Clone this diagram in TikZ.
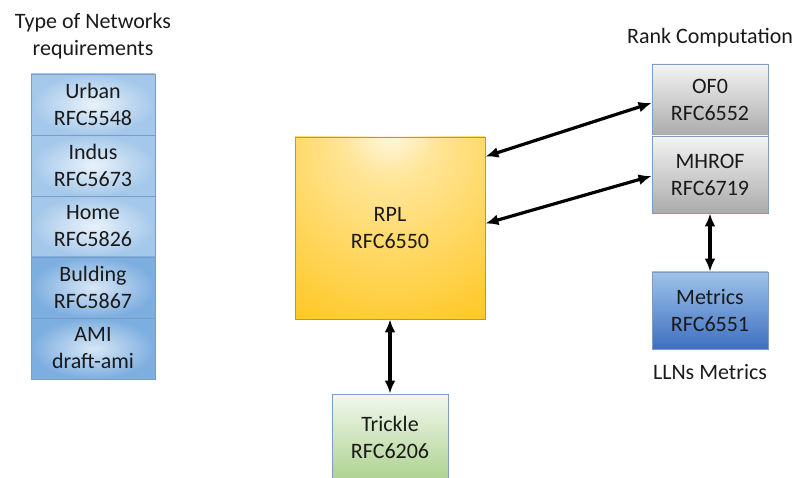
\documentclass[tikz,border=0pt]{standalone}
\usepackage{fontspec}
\setmainfont{Carlito}
\usetikzlibrary{arrows.meta,calc}
\definecolor{txt}{HTML}{1A1A1A}
\definecolor{blueA}{HTML}{EAF2FB}
\definecolor{blueB}{HTML}{A4C8EA}
\definecolor{blueC}{HTML}{D8E7F6}
\definecolor{blueD}{HTML}{7DAEE0}
\definecolor{bord}{HTML}{7C9CC4}
\definecolor{grayA}{HTML}{F4F4F4}
\definecolor{grayB}{HTML}{ABABAB}
\definecolor{metA}{HTML}{9EC3EA}
\definecolor{metB}{HTML}{3F6FC0}
\definecolor{grnA}{HTML}{F2F8EE}
\definecolor{grnB}{HTML}{AED28F}
\definecolor{yelA}{HTML}{FFFDF5}
\definecolor{yelB}{HTML}{FFC20E}
\pgfdeclareradialshading{rplshade}{\pgfpoint{0bp}{30bp}}{color(0bp)=(yelA); color(12bp)=(yelA!60!yelB); color(45bp)=(yelB!90!yelA); color(80bp)=(yelB)}
\tikzset{
  lbl/.style={text=txt, font=\fontsize{22}{27}\selectfont, align=center},
  box/.style={lbl, draw=bord, line width=0.9pt, minimum width=124pt, inner sep=0pt},
  lblue/.style={box, inner color=blueA, outer color=blueB},
  dblue/.style={box, inner color=blueC, outer color=blueD},
  gbox/.style={box, minimum width=116pt, top color=grayA, bottom color=grayB},
  arr/.style={{Latex[length=13pt,width=11pt]}-{Latex[length=13pt,width=11pt]}, line width=3.2pt, black}
}
\begin{document}
\begin{tikzpicture}[x=1pt,y=-1pt]
\useasboundingbox (0,0) rectangle (795,478);
% titles
\node[lbl] (t1) at (93,36) {Type of Networks\\requirements};
\node[lbl] (t2) at (710,38) {Rank Computation};
\node[lbl] (t3) at (710,372) {LLNs Metrics};
% left column
\node[lblue, minimum height=61pt] (urban) at (93,104.5) {Urban\\RFC5548};
\node[lblue, minimum height=61pt] (indus) at (93,165.5) {Indus\\RFC5673};
\node[lblue, minimum height=61pt] (home) at (93,226.5) {Home\\RFC5826};
\node[dblue, minimum height=61pt] (bulding) at (93,287.5) {Bulding\\RFC5867};
\node[dblue, minimum height=61pt] (ami) at (93,348.5) {AMI\\draft-ami};
% RPL
\node[box, minimum width=190pt, minimum height=182pt, shading=rplshade] (rpl) at (390,228) {RPL\\RFC6550};
% Trickle
\node[box, minimum width=116pt, minimum height=86pt, top color=grnA, bottom color=grnB] (trickle) at (390,437) {Trickle\\RFC6206};
% right column
\node[gbox, minimum height=72pt] (of0) at (710,100) {OF0\\RFC6552};
\node[gbox, minimum height=77pt] (mhrof) at (710,174.5) {MHROF\\RFC6719};
\node[box, minimum width=116pt, minimum height=77pt, top color=metA, bottom color=metB] (metrics) at (710,310.5) {Metrics\\RFC6551};
% connectors
\draw[arr] (rpl.south) -- (trickle.north);
\draw[arr] (mhrof.south) -- (metrics.north);
\draw[arr] ([yshift=-20pt]rpl.north east) -- ([yshift=-3pt]of0.west);
\draw[arr] ([yshift=-87pt]rpl.north east) -- ([yshift=-1.5pt]mhrof.west);
\end{tikzpicture}
\end{document}
